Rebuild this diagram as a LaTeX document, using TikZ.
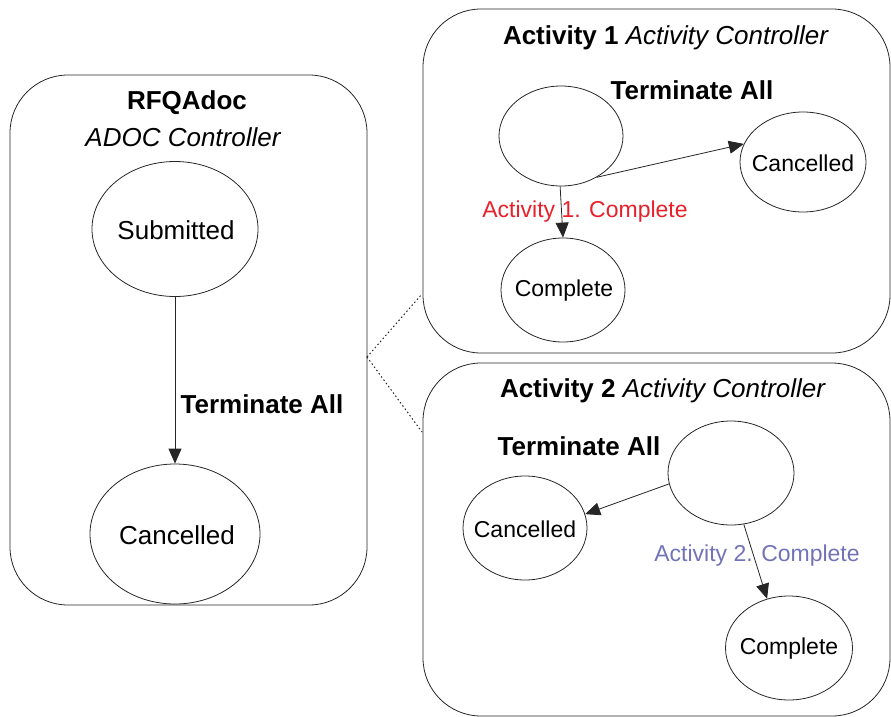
\documentclass[tikz,border=0pt]{standalone}
\usepackage{fontspec}
\setmainfont{Liberation Sans}
\usetikzlibrary{arrows.meta,shapes.geometric}
\definecolor{actred}{HTML}{E8202A}
\definecolor{actpurple}{HTML}{7272B8}
\tikzset{
  box/.style={draw=black!85, line width=0.8pt, rounded corners=58pt},
  st/.style={draw=black!85, line width=0.8pt, ellipse, inner sep=0pt},
  big/.style={font=\fontsize{26}{30}\selectfont},
  bigb/.style={font=\fontsize{26}{30}\selectfont\bfseries},
  small/.style={font=\fontsize{23}{27}\selectfont},
  arr/.style={draw=black!85, line width=0.8pt, -{Triangle[length=15pt,width=13pt]}},
  dots/.style={draw=black!85, line width=1pt, dash pattern=on 1.5pt off 2.5pt},
}
\begin{document}
\begin{tikzpicture}[x=1pt,y=-1pt]
\useasboundingbox (0,0) rectangle (891,717);
\begin{scope}
\clip (0,0) rectangle (891,717);
% boxes
\draw[box] (10,75) rectangle (367,605);
\draw[box] (423,9) rectangle (890,353);
\draw[box] (423,363) rectangle (890,716);
\end{scope}
% left box
\node[bigb] (t0) at (187,103) {RFQAdoc};
\node[big, font=\fontsize{26}{30}\selectfont\itshape] (t0b) at (183,137) {ADOC Controller};
\node[st, minimum width=166pt, minimum height=135pt] (sub) at (175,229) {};
\node[big] (subt) at (176,230) {Submitted};
\node[st, minimum width=170pt, minimum height=140pt] (can) at (175,534) {};
\node[big] (cant) at (177,535) {Cancelled};
\draw[arr] (sub) -- (can);
\node[bigb] (ta0) at (262,404) {Terminate All};
% top right box
\node[big] (t1) at (666,38) {\textbf{Activity 1} \textit{Activity Controller}};
\node[st, minimum width=124pt, minimum height=100pt] (e1) at (561,136) {};
\node[st, minimum width=126pt, minimum height=100pt] (c1) at (803,162) {};
\node[small] (c1t) at (803,163) {Cancelled};
\node[st, minimum width=124pt, minimum height=104pt] (co1) at (563,290) {};
\node[small] (co1t) at (564,291) {Complete};
\node[bigb] (ta1) at (692,90) {Terminate All};
\draw[arr] (e1.-49) -- (c1.163);
\draw[arr] (e1.-91) -- (co1.north);
\node[small, text=actred] (l1) at (585,212) {Activity 1. Complete};
% bottom right box
\node[big] (t2) at (663,391) {\textbf{Activity 2} \textit{Activity Controller}};
\node[st, minimum width=126pt, minimum height=104pt] (e2) at (731,473) {};
\node[st, minimum width=124pt, minimum height=104pt] (c2) at (525,528) {};
\node[small] (c2t) at (525,529) {Cancelled};
\node[st, minimum width=127pt, minimum height=104pt] (co2) at (789,648) {};
\node[small] (co2t) at (789,649) {Complete};
\node[bigb] (ta2) at (579,446) {Terminate All};
\draw[arr] (e2.190) -- (c2.13);
\draw[arr] (e2.-76) -- (co2.114);
\node[small, text=actpurple] (l2) at (757,556) {Activity 2. Complete};
% dotted connectors
\coordinate (apex) at (367,357);
\coordinate (top1) at (422,294);
\coordinate (bot1) at (422,432);
\draw[dots] (apex) -- (top1);
\draw[dots] (apex) -- (bot1);
\end{tikzpicture}
\end{document}
